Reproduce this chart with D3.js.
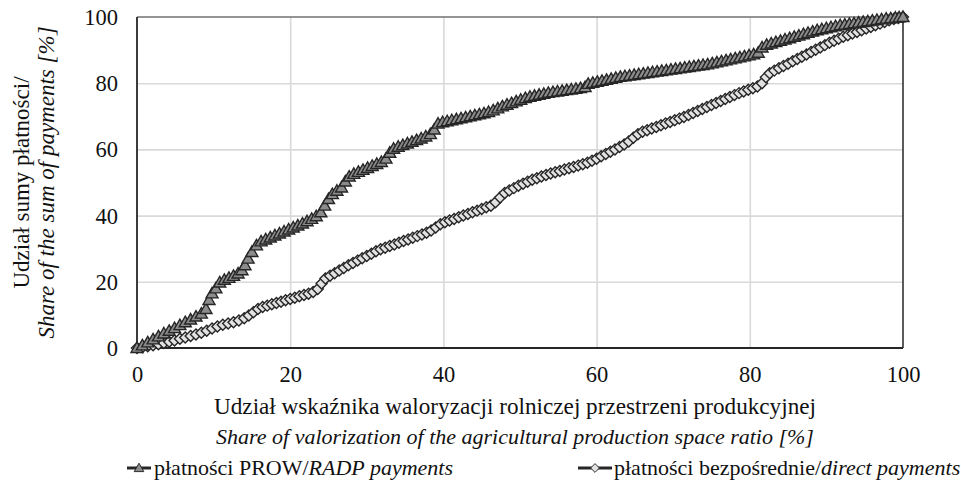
<!DOCTYPE html>
<html>
<head>
<meta charset="utf-8">
<script src="https://cdn.jsdelivr.net/npm/d3@7"></script>
<style>
  html, body { margin: 0; padding: 0; background: #ffffff; }
  svg { display: block; }
</style>
</head>
<body>
<svg id="chart" width="961" height="493"></svg>
<script>
// ---- data ----
const xTicks = [0, 20, 40, 60, 80, 100];
const yTicks = [0, 20, 40, 60, 80, 100];

const seriesNames = ["płatności PROW/", "płatności bezpośrednie/"];
const seriesNamesEn = ["RADP payments", "direct payments"];

const xTitlePl = "Udział wskaźnika waloryzacji rolniczej przestrzeni produkcyjnej";
const xTitleEn = "Share of valorization of the agricultural production space ratio [%]";
const yTitlePl = "Udział sumy płatności/";
const yTitleEn = "Share of the sum of payments [%]";

// PROW / RADP payments: [cumulative valorization share, cumulative payment share]
const prowPoints = [
  [0,0],[0.7,0.8],[1.4,1.7],[2.1,2.6],[2.8,3.5],[3.5,4.4],[4.2,5.2],[4.9,6.0],[5.6,6.9],[6.3,7.8],
  [7.0,8.6],[7.7,9.5],[8.4,10.4],[9.0,11.8],[9.4,14.5],[9.8,16.5],[10.3,18],[10.8,19.8],[11.4,20.6],[12.0,21.2],
  [12.6,21.8],[13.2,22.5],[13.7,23.5],[14.1,25],[14.5,27],[15.0,29],[15.6,31],[16.2,32.2],[16.8,32.8],[17.4,33.4],
  [18.0,34],[18.6,34.6],[19.2,35.2],[19.8,35.8],[20.4,36.4],[21.0,37],[21.6,37.6],[22.2,38.3],[22.8,39],[23.4,39.8],
  [24.0,41],[24.5,43],[25.0,45],[25.5,46.5],[26.1,47.5],[26.7,48.5],[27.2,50.3],[27.7,51.8],[28.3,52.6],[28.9,53.2],
  [29.5,53.8],[30.1,54.4],[30.7,55],[31.3,55.6],[31.9,56.2],[32.5,57.2],[33.0,59],[33.5,60.2],[34.1,60.8],[34.7,61.3],
  [35.3,61.8],[35.9,62.3],[36.5,62.8],[37.1,63.3],[37.7,63.9],[38.3,64.6],[38.8,66],[39.3,67.8],[39.9,68.2],[40.5,68.5],
  [41.1,68.8],[41.7,69.1],[42.3,69.4],[42.9,69.7],[43.5,70],[44.1,70.3],[44.7,70.6],[45.3,70.9],[45.9,71.3],[46.5,71.8],
  [47.1,72.4],[47.7,73],[48.3,73.5],[48.9,74],[49.5,74.5],[50.1,75],[50.7,75.5],[51.3,75.9],[51.9,76.2],[52.5,76.5],
  [53.1,76.8],[53.7,77.1],[54.3,77.3],[54.9,77.5],[55.5,77.7],[56.1,77.9],[56.7,78.1],[57.3,78.3],[57.9,78.5],[58.5,78.8],
  [58.9,79.8],[59.5,80.1],[60.1,80.4],[60.7,80.7],[61.3,81],[61.9,81.3],[62.5,81.6],[63.1,81.9],[63.7,82.1],[64.3,82.3],
  [64.9,82.5],[65.5,82.7],[66.1,82.9],[66.7,83.1],[67.3,83.3],[67.9,83.5],[68.5,83.7],[69.1,83.9],[69.7,84.1],[70.3,84.3],
  [70.9,84.5],[71.5,84.7],[72.1,84.9],[72.7,85.1],[73.3,85.3],[73.9,85.5],[74.5,85.7],[75.1,86],[75.7,86.3],[76.3,86.6],
  [76.9,86.9],[77.5,87.2],[78.1,87.5],[78.7,87.8],[79.3,88.1],[79.9,88.4],[80.5,88.7],[81.1,89.2],[81.6,90.8],[82.2,91.6],
  [82.8,92],[83.4,92.4],[84.0,92.8],[84.6,93.2],[85.2,93.6],[85.8,94],[86.4,94.4],[87.0,94.8],[87.6,95.2],[88.2,95.6],
  [88.8,96],[89.4,96.3],[90.0,96.6],[90.6,96.9],[91.2,97.2],[91.8,97.5],[92.4,97.7],[93.0,97.9],[93.6,98.1],[94.2,98.3],
  [94.8,98.5],[95.4,98.7],[96.0,98.9],[96.6,99.1],[97.2,99.3],[97.8,99.5],[98.4,99.6],[99.0,99.8],[99.5,99.9],[100,100]
];

// Direct payments
const directPoints = [
  [0,0],[0.7,0.2],[1.4,0.5],[2.1,0.8],[2.8,1.1],[3.5,1.5],[4.2,1.9],[4.9,2.3],[5.6,2.8],[6.3,3.2],
  [7.0,3.6],[7.7,4.1],[8.4,4.6],[9.1,5.2],[9.8,5.9],[10.5,6.5],[11.2,7],[11.9,7.4],[12.6,7.8],[13.3,8.3],
  [14.0,9],[14.6,9.8],[15.2,10.8],[15.8,11.8],[16.4,12.4],[17.0,12.8],[17.6,13.2],[18.2,13.6],[18.8,14],[19.4,14.4],
  [20.0,14.8],[20.6,15.2],[21.2,15.6],[21.8,16],[22.4,16.4],[23.0,16.9],[23.6,17.8],[24.1,19.5],[24.6,21],[25.2,21.8],
  [25.8,22.6],[26.4,23.4],[27.0,24.2],[27.6,25],[28.2,25.7],[28.8,26.4],[29.4,27.1],[30.0,27.8],[30.6,28.5],[31.2,29.2],
  [31.8,29.8],[32.4,30.3],[33.0,30.8],[33.6,31.3],[34.2,31.8],[34.8,32.3],[35.4,32.8],[36.0,33.3],[36.6,33.8],[37.2,34.3],
  [37.8,34.8],[38.4,35.5],[39.0,36.4],[39.6,37.4],[40.2,38],[40.8,38.5],[41.4,39],[42.0,39.5],[42.6,40],[43.2,40.5],
  [43.8,41],[44.4,41.5],[45.0,42],[45.6,42.5],[46.2,43],[46.8,44],[47.4,45.5],[48.0,46.8],[48.6,47.6],[49.2,48.3],
  [49.8,49],[50.4,49.6],[51.0,50.2],[51.6,50.8],[52.2,51.3],[52.8,51.8],[53.4,52.3],[54.0,52.7],[54.6,53.1],[55.2,53.5],
  [55.8,53.9],[56.4,54.3],[57.0,54.7],[57.6,55.1],[58.2,55.5],[58.8,56],[59.4,56.6],[60.0,57.2],[60.6,57.9],[61.2,58.6],
  [61.8,59.3],[62.4,60],[63.0,60.7],[63.6,61.5],[64.2,62.4],[64.8,63.5],[65.4,64.6],[66.0,65.3],[66.6,65.8],[67.2,66.3],
  [67.8,66.8],[68.4,67.3],[69.0,67.8],[69.6,68.3],[70.2,68.8],[70.8,69.3],[71.4,69.8],[72.0,70.4],[72.6,71],[73.2,71.6],
  [73.8,72.2],[74.4,72.8],[75.0,73.4],[75.6,74],[76.2,74.6],[76.8,75.2],[77.4,75.8],[78.0,76.4],[78.6,77],[79.2,77.5],
  [79.8,78],[80.4,78.5],[81.0,79],[81.6,80],[82.1,81.8],[82.6,83],[83.2,83.8],[83.8,84.5],[84.4,85.2],[85.0,85.9],
  [85.6,86.6],[86.2,87.3],[86.8,88],[87.4,88.7],[88.0,89.4],[88.6,90.1],[89.2,90.8],[89.8,91.5],[90.4,92.2],[91.0,92.8],
  [91.6,93.4],[92.2,94],[92.8,94.5],[93.4,95],[94.0,95.5],[94.6,96],[95.2,96.5],[95.8,97],[96.4,97.5],[97.0,98],
  [97.6,98.5],[98.2,99],[98.8,99.4],[99.4,99.7],[100,100]
];

// ---- drawing ----
const svg = d3.select("#chart");
const plot = { left: 137, right: 903, top: 17, bottom: 348 };

const x = d3.scaleLinear().domain([0, 100]).range([plot.left, plot.right]);
const y = d3.scaleLinear().domain([0, 100]).range([plot.bottom, plot.top]);

const gridColor = "#d9d9d9";
const darkColor = "#262626";
const FONT = '"Liberation Serif"';

svg.append("g")
  .attr("transform", `translate(0,${plot.bottom})`)
  .call(d3.axisBottom(x).tickValues(xTicks.slice(1, -1)).tickSize(-(plot.bottom - plot.top)).tickFormat(""))
  .call(g => g.select(".domain").remove())
  .call(g => g.selectAll("line").attr("stroke", gridColor).attr("stroke-width", 1.6));

svg.append("g")
  .attr("transform", `translate(${plot.left},0)`)
  .call(d3.axisLeft(y).tickValues(yTicks.slice(1, -1)).tickSize(-(plot.right - plot.left)).tickFormat(""))
  .call(g => g.select(".domain").remove())
  .call(g => g.selectAll("line").attr("stroke", gridColor).attr("stroke-width", 1.6));

svg.append("line").attr("x1", x(0)).attr("x2", x(100)).attr("y1", y(100)).attr("y2", y(100))
  .attr("stroke", "#707070").attr("stroke-width", 1.6);
svg.append("line").attr("x1", x(100)).attr("x2", x(100)).attr("y1", y(100)).attr("y2", y(0))
  .attr("stroke", "#333333").attr("stroke-width", 1.6);

const xAxis = svg.append("g")
  .attr("transform", `translate(0,${plot.bottom})`)
  .call(d3.axisBottom(x).tickValues(xTicks).tickSize(0).tickPadding(0).tickFormat(d3.format("d")));
xAxis.select(".domain").remove();
xAxis.selectAll("text").style("font-family", FONT).attr("font-size", 22.5).attr("fill", "#111")
  .attr("dy", null).attr("y", 33.5);

const yAxis = svg.append("g")
  .attr("transform", `translate(${plot.left},0)`)
  .call(d3.axisLeft(y).tickValues(yTicks).tickSize(0).tickPadding(0).tickFormat(d3.format("d")));
yAxis.select(".domain").remove();
yAxis.selectAll("text").style("font-family", FONT).attr("font-size", 22.5).attr("fill", "#111")
  .attr("x", -19).attr("dy", "0.33em");

svg.append("line").attr("x1", x(0)).attr("x2", x(0)).attr("y1", y(100)).attr("y2", y(0))
  .attr("stroke", darkColor).attr("stroke-width", 1.8);
svg.append("line").attr("x1", x(0)).attr("x2", x(100)).attr("y1", y(0)).attr("y2", y(0))
  .attr("stroke", darkColor).attr("stroke-width", 2);

const triPath = "M0,-6L6,4.5L-6,4.5Z";
const diaPath = "M0,-5.5L5.5,0L0,5.5L-5.5,0Z";

const line = d3.line().x(d => x(d[0])).y(d => y(d[1]));

function drawSeries(points, path, fill) {
  const g = svg.append("g");
  g.append("path").datum(points).attr("d", line)
    .attr("fill", "none").attr("stroke", darkColor).attr("stroke-width", 2);
  g.selectAll("path.m").data(points).enter().append("path")
    .attr("class", "m")
    .attr("d", path)
    .attr("transform", d => `translate(${x(d[0])},${y(d[1])})`)
    .attr("fill", fill).attr("stroke", darkColor).attr("stroke-width", 1.4);
}
drawSeries(directPoints, diaPath, "#e2e2e2");
drawSeries(prowPoints, triPath, "#8c8c8c");

function addText(xp, yp, str, size, italic, anchor) {
  return svg.append("text").attr("x", xp).attr("y", yp).attr("text-anchor", anchor || "middle")
    .style("font-family", FONT).attr("font-size", size)
    .attr("font-style", italic ? "italic" : "normal").attr("fill", "#111").text(str);
}
addText(515, 414, xTitlePl, 23.2, false);
addText(515, 444, xTitleEn, 22, true);

const cy = (plot.top + plot.bottom) / 2;
addText(0, 0, yTitlePl, 23, false).attr("transform", `translate(29,${cy}) rotate(-90)`);
addText(0, 0, yTitleEn, 23, true).attr("transform", `translate(54,${cy}) rotate(-90)`);

const legendItems = [
  { x0: 127, x1: 151, mx: 139, tx: 154, path: triPath, fill: "#8c8c8c" },
  { x0: 578, x1: 612, mx: 595, tx: 614, path: diaPath, fill: "#e2e2e2" }
];
const ly = 468;
legendItems.forEach((it, i) => {
  svg.append("line").attr("x1", it.x0).attr("x2", it.x1).attr("y1", ly).attr("y2", ly)
    .attr("stroke", darkColor).attr("stroke-width", 3);
  svg.append("path").attr("d", it.path).attr("transform", `translate(${it.mx},${ly}) scale(0.8)`)
    .attr("fill", it.fill).attr("stroke", darkColor).attr("stroke-width", 1.2);
  const t = addText(it.tx, ly + 7, null, 22, false, "start");
  t.append("tspan").text(seriesNames[i]);
  t.append("tspan").attr("font-style", "italic").text(seriesNamesEn[i]);
});
</script>
</body>
</html>
